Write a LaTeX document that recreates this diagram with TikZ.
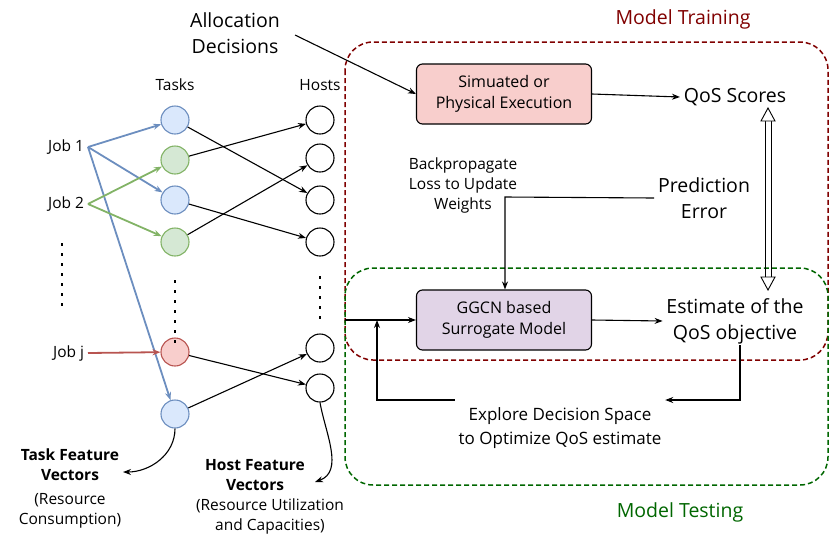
\documentclass[tikz,border=0pt]{standalone}
\usepackage{fontspec}
\setmainfont{Open Sans}
\usetikzlibrary{arrows.meta}
\definecolor{bl}{RGB}{108,142,191}\definecolor{blf}{RGB}{218,232,252}
\definecolor{gr}{RGB}{130,179,102}\definecolor{grf}{RGB}{213,232,212}
\definecolor{rd}{RGB}{184,84,80}\definecolor{rdf}{RGB}{248,206,204}
\definecolor{dr}{RGB}{128,0,0}\definecolor{dg}{RGB}{0,102,0}
\begin{document}
\begin{tikzpicture}[x=1pt,y=-1pt,>={Stealth[length=8,width=6]},line width=1.1,
 t/.style={circle,draw=#1,minimum size=28,inner sep=0,line width=1.1},
 h/.style={circle,draw,minimum size=28,inner sep=0,line width=1.1},
 lbl/.style={font=\fontsize{15.5}{20}\selectfont,align=center},
 big/.style={font=\fontsize{19.5}{26}\selectfont,align=center},
 box/.style={draw,rounded corners=6,minimum width=175,minimum height=60,align=center,font=\fontsize{16}{21}\selectfont,line width=1.1},
 dots/.style={line width=2.6,dash pattern=on 2.5 off 7.5}]
\useasboundingbox (0,0) rectangle (831,539);
\node[big,text=dr] (mtr) at (683,19) {Model Training};
\node[big,text=dg] (mte) at (680,512) {Model Testing};
\draw[dr,line width=1.5,dash pattern=on 5 off 3,rounded corners=28] (345,42) rectangle (828,360);
\draw[dg,line width=1.5,dash pattern=on 5 off 3,rounded corners=28] (345,268) rectangle (828,485);
\node[lbl] (tk) at (175,85) {Tasks};
\node[lbl] (hs) at (320,85) {Hosts};
\node[t=bl,fill=blf] (t1) at (175,120) {};
\node[t=gr,fill=grf] (t2) at (175,160) {};
\node[t=bl,fill=blf] (t3) at (175,200) {};
\node[t=gr,fill=grf] (t4) at (175,242) {};
\node[t=rd,fill=rdf] (t5) at (175,352) {};
\node[t=bl,fill=blf] (t6) at (175,414) {};
\node[h] (h1) at (320,120) {};
\node[h] (h2) at (320,158) {};
\node[h] (h3) at (320,200) {};
\node[h] (h4) at (320,242) {};
\node[h] (h5) at (320,348) {};
\node[h] (h6) at (320,388) {};
\node[lbl,anchor=east] (j1) at (88,147) {Job 1};
\node[lbl,anchor=east] (j2) at (88,204) {Job 2};
\node[lbl,anchor=east] (jj) at (88,353) {Job j};
\draw[dots] (62,243) -- (62,312);
\draw[dots] (175,280) -- (175,345);
\draw[dots] (320,276) -- (320,322);
\foreach \x in {t1,t3,t6} \draw[->,bl,line width=1.8] (j1.east) -- (\x);
\foreach \x in {t2,t4} \draw[->,gr,line width=1.8] (j2.east) -- (\x);
\draw[->,rd,line width=1.8] (jj.east) -- (t5);
\draw[->] (t1) -- (h3); \draw[->] (t2) -- (h1); \draw[->] (t3) -- (h4);
\draw[->] (t4) -- (h2); \draw[->] (t5) -- (h6); \draw[->] (t6) -- (h5);
\node[lbl,font=\fontsize{15.5}{20}\selectfont\bfseries] (tfv) at (70,465) {Task Feature\\Vectors};
\node[lbl] (tfc) at (70,511) {(Resource\\Consumption)};
\draw[->] (t6.south) to[out=-90,in=0] (tfv.east |- 0,472);
\node[lbl,font=\fontsize{15.5}{20}\selectfont\bfseries] (hfv) at (255,475) {Host Feature\\Vectors};
\node[lbl] (hfc) at (270,516) {(Resource Utilization\\and Capacities)};
\draw[->] (h6.south) to[out=-80,in=20] (315,482);
\node[big] (ad) at (235,33) {Allocation\\Decisions};
\node[box,fill=rdf] (b1) at (504,94) {Simuated or\\Physical Execution};
\node[box,fill={rgb,255:red,225;green,212;blue,231}] (b2) at (504,320) {GGCN based\\Surrogate Model};
\draw[->] (295,35) -- (b1.west);
\node[big] (qs) at (735,97) {QoS Scores};
\draw[->] (b1.east) -- (qs.west);
\node[lbl] (bp) at (463,185) {Backpropagate\\Loss to Update\\Weights};
\node[big] (pe) at (704,198) {Prediction\\Error};
\draw[->] (pe.west) -- (505,197) -- (b2.north -| 505,0);
\node[big] (est) at (735,321) {Estimate of the\\QoS objective};
\draw[->] (b2.east) -- (est.west);
\draw[line width=0.9] (765,120) -- (765,278) (771,120) -- (771,278);
\draw[line width=0.9,fill=white,line join=miter] (761,121) -- (768,108) -- (775,121) -- cycle;
\draw[line width=0.9,fill=white,line join=miter] (761,277) -- (768,290) -- (775,277) -- cycle;
\node[lbl,font=\fontsize{17}{24}\selectfont] (ex) at (560,428) {Explore Decision Space\\to Optimize QoS estimate};
\coordinate (cin) at (345,320);
\draw[->] (cin) -- (b2.west);
\draw[->] (740,345) -- (740,400) -- (ex.east |- 0,400);
\draw[->] (ex.west |- 0,400) -- (377,400) -- (377,320);
\end{tikzpicture}
\end{document}
